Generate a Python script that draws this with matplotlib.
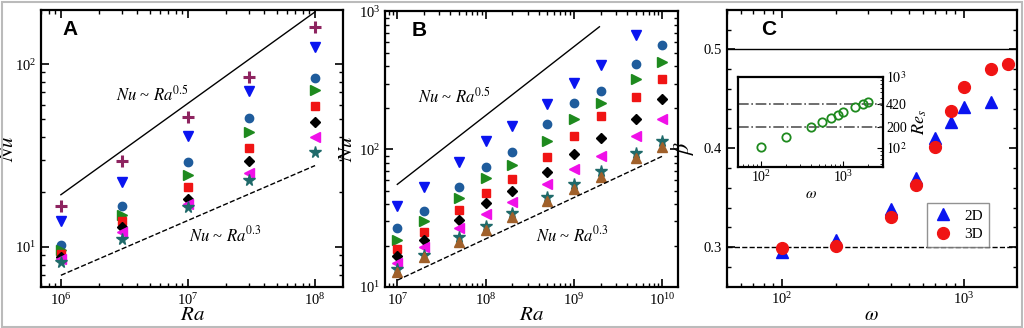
import numpy as np
import matplotlib
matplotlib.use("Agg")
import matplotlib.pyplot as plt
from matplotlib.patches import Rectangle

plt.rcParams['font.family'] = ['Liberation Serif', 'DejaVu Serif']
plt.rcParams['mathtext.fontset'] = 'stix'

# Panel A data
ra_a = [1e6, 3e6, 1e7, 3e7, 1e8]
nu_a = {
    'plus':  [16.8, 29.4, 51.2, 85.1, 160],
    'down':  [13.8, 22.8, 40.6, 71.0, 124],
    'circ':  [10.3, 16.8, 29.0, 50.7, 83.7],
    'right': [9.6, 15.0, 24.6, 42.4, 71.9],
    'sq':    [9.15, 13.9, 21.4, 34.7, 59.3],
    'dia':   [8.85, 12.9, 18.3, 29.4, 48.3],
    'left':  [8.56, 12.0, 17.2, 25.5, 39.9],
    'star':  [8.3, 11.0, 16.6, 23.3, 32.9],
}

# Panel B data
ra_b = [1e7, 2e7, 5e7, 1e8, 2e8, 5e8, 1e9, 2e9, 5e9, 1e10]
nu_b = {
    'down':  [38.8, 52.8, 81.1, 115, 148, 213, 301, 409, 677, np.nan],
    'circ':  [26.6, 35.6, 52.8, 74.6, 95.9, 152, 218, 266, 417, 573],
    'right': [22.1, 29.9, 44.0, 62.1, 76.8, 115, 165, 216, 322, 428],
    'sq':    [19.0, 25.1, 36.1, 48.3, 60.7, 88.1, 125, 174, 241, 322],
    'dia':   [16.8, 22.1, 30.6, 40.9, 49.6, 68.5, 92.2, 120, 166, 232],
    'left':  [15.0, 19.5, 26.6, 33.6, 41.1, 55.6, 71.4, 89.3, 125, 166],
    'star':  [13.6, 17.2, 22.9, 27.6, 34.2, 45.2, 55.6, 69.8, 94.4, 115],
    'up':    [12.9, 16.4, 21.2, 25.8, 32.3, 42.0, 51.4, 63.1, 85.9, 104],
}

# Panel C data
omega_2d = [100, 200, 400, 550, 700, 850, 1000, 1420]
beta_2d = [0.295, 0.307, 0.339, 0.370, 0.410, 0.427, 0.442, 0.447]
omega_3d = [100, 200, 400, 550, 700, 850, 1000, 1420, 1750]
beta_3d = [0.299, 0.301, 0.330, 0.363, 0.401, 0.438, 0.462, 0.480, 0.485]

# inset data
omega_in = [100, 200, 400, 550, 700, 850, 1000, 1400, 1750, 2000]
res_in = [102, 142, 200, 235, 262, 292, 318, 374, 416, 448]

styles = {
    'plus':  dict(marker='+', color='#8e2460', ms=8, mew=2.2),
    'down':  dict(marker='v', color='#0a14f0', ms=7),
    'circ':  dict(marker='o', color='#1f5c9c', ms=6),
    'right': dict(marker='>', color='#1e8a1e', ms=6.5),
    'sq':    dict(marker='s', color='#f01414', ms=5.5),
    'dia':   dict(marker='D', color='black', ms=5),
    'left':  dict(marker='<', color='#f010e8', ms=6.5),
    'star':  dict(marker='*', color='#1f6a6a', ms=8.5),
    'up':    dict(marker='^', color='#a0602a', ms=6.5),
}

fig = plt.figure(figsize=(10.24, 3.28), dpi=100)
fig.patches.append(Rectangle((0.002, 0.003), 0.996, 0.99, transform=fig.transFigure,
                             fill=False, edgecolor='#bbbbbb', lw=1.5))


def style_axes(ax):
    for s in ax.spines.values():
        s.set_linewidth(1.6)
    ax.tick_params(which='both', direction='in', top=True, right=True, labelsize=10.5)
    ax.tick_params(which='major', length=6, width=1.2)
    ax.tick_params(which='minor', length=3, width=1.0)


# Panel A
ax1 = fig.add_axes([0.040, 0.125, 0.295, 0.845])
for k, v in nu_a.items():
    ax1.plot(ra_a, v, ls='none', **styles[k])
x = np.array([1e6, 1e8])
ax1.plot(x, 19.3 * (x / 1e6) ** 0.5, 'k-', lw=1)
ax1.plot(x, 7.0 * (x / 1e6) ** 0.3, 'k--', lw=1)
ax1.set_xscale('log')
ax1.set_yscale('log')
ax1.set_xlim(6.97e5, 1.66e8)
ax1.set_ylim(6.04, 198)
ax1.text(5.2e6, 68, r'$Nu$ ~ $Ra^{0.5}$', fontsize=12, ha='center', va='center')
ax1.text(1.95e7, 11.5, r'$Nu$ ~ $Ra^{0.3}$', fontsize=12, ha='center', va='center')
ax1.set_xlabel(r'$Ra$', fontsize=15, labelpad=-1)
ax1.set_ylabel(r'$Nu$', fontsize=15)
ax1.yaxis.set_label_coords(-0.076, 0.5)
ax1.text(0.07, 0.93, 'A', transform=ax1.transAxes, fontsize=15, fontweight='bold',
         family='Liberation Sans', va='center')
style_axes(ax1)

# Panel B
ax2 = fig.add_axes([0.376, 0.125, 0.286, 0.840])
for k, v in nu_b.items():
    ax2.plot(ra_b, v, ls='none', **styles[k])
xs = np.array([1e7, 1.94e9])
ax2.plot(xs, 55.6 * (xs / 1e7) ** 0.5, 'k-', lw=1)
xd = np.array([1e7, 1e10])
ax2.plot(xd, 11.2 * (xd / 1e7) ** 0.3, 'k--', lw=1)
ax2.set_xscale('log')
ax2.set_yscale('log')
ax2.set_xlim(7.26e6, 1.5e10)
ax2.set_ylim(10, 1000)
ax2.text(4.4e7, 241, r'$Nu$ ~ $Ra^{0.5}$', fontsize=12, ha='center', va='center')
ax2.text(9.5e8, 23.8, r'$Nu$ ~ $Ra^{0.3}$', fontsize=12, ha='center', va='center')
ax2.set_xlabel(r'$Ra$', fontsize=15, labelpad=-1)
ax2.set_ylabel(r'$Nu$', fontsize=15)
ax2.yaxis.set_label_coords(-0.096, 0.5)
ax2.text(0.09, 0.93, 'B', transform=ax2.transAxes, fontsize=15, fontweight='bold',
         family='Liberation Sans', va='center')
style_axes(ax2)

# Panel C
ax3 = fig.add_axes([0.7097, 0.126, 0.2832, 0.844])
ax3.axhline(0.5, color='k', lw=1)
ax3.axhline(0.3, color='k', lw=1, ls='--')
ax3.plot(omega_2d, beta_2d, ls='none', marker='^', color='#0a14f0', ms=8.5, label='2D')
ax3.plot(omega_3d, beta_3d, ls='none', marker='o', color='#f01414', ms=8.5, label='3D')
ax3.set_xscale('log')
ax3.set_xlim(50, 1960)
ax3.set_ylim(0.26, 0.54)
ax3.set_yticks([0.3, 0.4, 0.5])
ax3.set_yticks(np.arange(0.28, 0.54, 0.02), minor=True)
ax3.set_xlabel(r'$\omega$', fontsize=14, labelpad=0)
ax3.set_ylabel(r'$\beta$', fontsize=16)
ax3.yaxis.set_label_coords(-0.106, 0.5)
ax3.text(0.12, 0.93, 'C', transform=ax3.transAxes, fontsize=15, fontweight='bold',
         family='Liberation Sans', va='center')
style_axes(ax3)
leg = ax3.legend(loc='lower right', bbox_to_anchor=(0.93, 0.115), fontsize=11,
                 fancybox=False, edgecolor='#777777', handletextpad=0.8,
                 handlelength=1.2, borderpad=0.4, labelspacing=0.3)
leg.get_frame().set_linewidth(1.0)

# Inset
axi = fig.add_axes([0.721, 0.492, 0.1416, 0.2744])
axi.axhline(420, color='#555555', lw=1.2, ls='-.')
axi.axhline(200, color='#555555', lw=1.2, ls='-.')
axi.plot(omega_in, res_in, ls='none', marker='o', mfc='none', mec='#1e8a1e',
         mew=1.3, ms=6)
axi.set_xscale('log')
axi.set_yscale('log')
axi.set_xlim(53, 3060)
axi.set_ylim(55, 1000)
axi.yaxis.tick_right()
axi.yaxis.set_label_position('right')
axi.set_yticks([100, 200, 420, 1000])
axi.set_yticklabels([r'$10^2$', '200', '420', r'$10^3$'])
axi.set_xlabel(r'$\omega$', fontsize=11, labelpad=2)
axi.set_ylabel(r'$Re_s$', fontsize=13)
axi.yaxis.set_label_coords(1.185, 0.49)
for s in axi.spines.values():
    s.set_linewidth(1.6)
axi.tick_params(which='both', direction='in', labelsize=10, pad=2)
axi.tick_params(which='major', length=4)
axi.tick_params(which='minor', length=2)

fig.savefig('out.png', dpi=100)
